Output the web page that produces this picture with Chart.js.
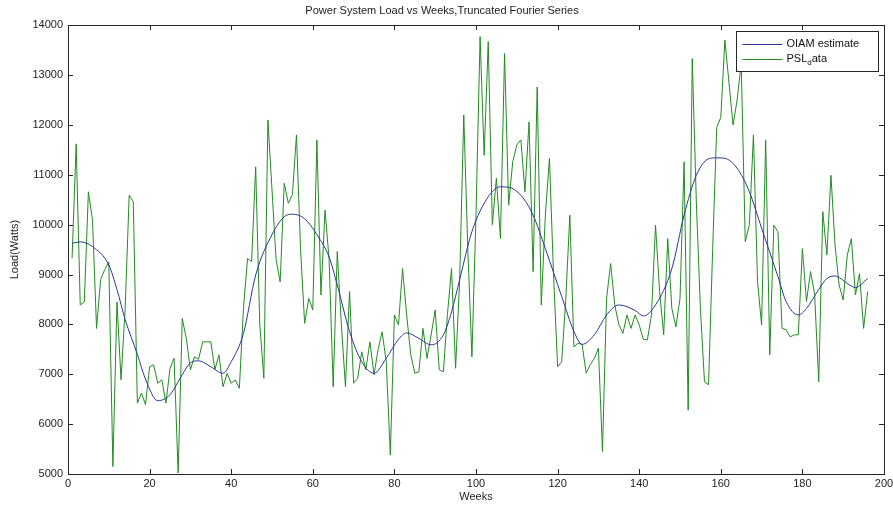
<!DOCTYPE html>
<html>
<head>
<meta charset="utf-8">
<script src="https://cdn.jsdelivr.net/npm/chart.js@4"></script>
<style>
  html, body { margin: 0; padding: 0; background: #fff; }
  #wrap { width: 893px; height: 506px; }
</style>
</head>
<body>
<div id="wrap"><canvas id="loadChart" width="893" height="506"></canvas></div>
<script>
// PSL data, one value per week (weeks 1..196)
const pslLoad = [
  9330, 11620, 8390, 8450, 10660, 10100, 7920, 8900, 9100, 9250,
  5150, 8450, 6890, 8300, 10590, 10460, 6420, 6620, 6390, 7150,
  7190, 6820, 6890, 6420, 7120, 7320, 5020, 8120, 7720, 7090,
  7350, 7300, 7650, 7650, 7650, 7090, 7390, 6750, 7020, 6820,
  6890, 6720, 8320, 9320, 9260, 11160, 8000, 6920, 12100, 10700,
  9300, 8850, 10830, 10430, 10600, 11800, 9500, 8020, 8520, 8290,
  11700, 8590, 10290, 9300, 6750, 9460, 8000, 6750, 8660, 6820,
  6920, 7450, 7090, 7650, 6990, 7500, 7850, 7250, 5380, 8190,
  7990, 9120, 8190, 7400, 7020, 7050, 7920, 7320, 7790, 8290,
  7090, 7050, 8200, 9120, 7120, 8900, 12200, 9500, 7350, 10200,
  13770, 11390, 13670, 10000, 10930, 9720, 13430, 10390, 11260, 11600,
  11700, 10660, 12060, 9060, 12760, 8390, 10190, 11330, 9000, 7150,
  7250, 8500, 10190, 7550, 7620, 7600, 7020, 7190, 7320, 7520,
  5450, 8520, 9220, 8390, 8000, 7820, 8190, 7920, 8190, 7990,
  7700, 7690, 8190, 9990, 8660, 7790, 9720, 8320, 7950, 8520,
  11260, 6280, 13330, 10460, 8320, 6850, 6790, 9500, 11950, 12150,
  13700, 12850, 12000, 12500, 13230, 9660, 10000, 11800, 8860, 7990,
  11700, 7390, 9990, 9860, 7920, 7890, 7750, 7790, 7790, 9520,
  8460, 9060, 8600, 6850, 10260, 9390, 10990, 9590, 8790, 8490,
  9390, 9720, 8590, 9020, 7920, 8660
];
const pslWeeks = pslLoad.map((v, i) => i + 1);

// OIAM estimate
const fitWeeks = [1, 3, 6, 10, 12, 14, 17, 19, 22, 25, 28, 30, 32, 35, 38, 40, 43, 46, 50, 53,
  55, 58, 61, 64, 66, 69, 72, 75, 78, 81, 83, 86, 89, 92, 94, 96, 99, 103, 106, 108,
  111, 114, 117, 121, 124, 126, 129, 132, 135, 139, 141, 144, 148, 151, 154, 157, 159, 161, 164, 167,
  170, 174, 176, 179, 181, 184, 186, 188, 191, 193, 196];
const fitLoad = [9625, 9655, 9560, 9190, 8700, 8100, 7400, 6900, 6470, 6590, 6990, 7230, 7270, 7150, 7020, 7250, 7820, 8990, 9800, 10160,
  10210, 10120, 9800, 9350, 8790, 7860, 7250, 7020, 7320, 7700, 7830, 7720, 7590, 7790, 8250, 8900, 9860, 10560, 10760, 10750,
  10590, 10190, 9520, 8560, 7860, 7600, 7790, 8190, 8390, 8280, 8170, 8390, 9120, 10190, 10990, 11320, 11340, 11330, 11130, 10660,
  9930, 8960, 8460, 8190, 8320, 8700, 8920, 8970, 8820, 8740, 8920];

const xTicks = [0, 20, 40, 60, 80, 100, 120, 140, 160, 180, 200];
const yTicks = [5000, 6000, 7000, 8000, 9000, 10000, 11000, 12000, 13000, 14000];

const blueLine = '#2b3596';
const greenLine = '#248a24';
const axisColor = '#262626';
const fontFamily = "'Liberation Sans', Arial, sans-serif";

// box + inward ticks on all four sides, MATLAB style
const boxPlugin = {
  id: 'matlabBox',
  afterDraw(chart) {
    const { ctx, chartArea: a, scales } = chart;
    ctx.save();
    ctx.strokeStyle = axisColor;
    ctx.lineWidth = 1;
    ctx.strokeRect(Math.round(a.left) + 0.5, Math.round(a.top) + 0.5,
      Math.round(a.right - a.left), Math.round(a.bottom - a.top));
    ctx.beginPath();
    xTicks.forEach(t => {
      const px = Math.round(scales.x.getPixelForValue(t)) + 0.5;
      ctx.moveTo(px, a.bottom); ctx.lineTo(px, a.bottom - 5);
      ctx.moveTo(px, a.top); ctx.lineTo(px, a.top + 5);
    });
    yTicks.forEach(t => {
      const py = Math.round(scales.y.getPixelForValue(t)) + 0.5;
      ctx.moveTo(a.left, py); ctx.lineTo(a.left + 5, py);
      ctx.moveTo(a.right, py); ctx.lineTo(a.right - 5, py);
    });
    ctx.stroke();

    // legend box inside the plot, top right
    const bx = Math.round(a.right - 148) + 0.5;
    const by = Math.round(a.top + 6) + 0.5;
    const bw = 142, bh = 40;
    ctx.fillStyle = '#fff';
    ctx.fillRect(bx, by, bw, bh);
    ctx.strokeRect(bx, by, bw, bh);
    const rows = [
      { color: blueLine, y: by + 12 },
      { color: greenLine, y: by + 27 }
    ];
    rows.forEach(r => {
      ctx.strokeStyle = r.color;
      ctx.beginPath();
      ctx.moveTo(bx + 6, Math.round(r.y) + 0.5);
      ctx.lineTo(bx + 46, Math.round(r.y) + 0.5);
      ctx.stroke();
    });
    ctx.fillStyle = '#111';
    ctx.textBaseline = 'middle';
    ctx.font = '11px ' + fontFamily;
    const tx = bx + 50;
    ctx.fillText('OIAM estimate', tx, rows[0].y);
    ctx.fillText('PSL', tx, rows[1].y);
    const w1 = ctx.measureText('PSL').width;
    ctx.font = '8px ' + fontFamily;
    ctx.fillText('d', tx + w1, rows[1].y + 4);
    const w2 = ctx.measureText('d').width;
    ctx.font = '11px ' + fontFamily;
    ctx.fillText('ata', tx + w1 + w2, rows[1].y);
    ctx.restore();
  }
};

const ctxLoad = document.getElementById('loadChart').getContext('2d');
const loadChart = new Chart(ctxLoad, {
  type: 'line',
  data: {
    datasets: [
      {
        label: 'PSL data',
        data: pslLoad.map((v, i) => ({ x: pslWeeks[i], y: v })),
        borderColor: greenLine,
        borderWidth: 1,
        pointRadius: 0,
        tension: 0,
        fill: false,
        order: 2
      },
      {
        label: 'OIAM estimate',
        data: fitLoad.map((v, i) => ({ x: fitWeeks[i], y: v })),
        borderColor: blueLine,
        borderWidth: 1,
        pointRadius: 0,
        cubicInterpolationMode: 'monotone',
        fill: false,
        order: 1
      }
    ]
  },
  options: {
    responsive: false,
    animation: false,
    layout: { padding: { left: 0, right: 9, top: 0, bottom: 0 } },
    scales: {
      x: {
        type: 'linear',
        min: 0,
        max: 200,
        afterBuildTicks: s => { s.ticks = xTicks.map(v => ({ value: v })); },
        afterFit: s => { s.height = 32; s.paddingRight = 0; s.paddingLeft = 0; },
        grid: { display: false, drawTicks: false },
        border: { display: false },
        ticks: {
          color: '#222',
          padding: 3,
          maxRotation: 0,
          callback: v => String(v),
          font: { size: 11, family: fontFamily }
        },
        title: {
          display: true,
          text: 'Weeks',
          color: '#222',
          padding: { top: 0, bottom: 2 },
          font: { size: 11, family: fontFamily }
        }
      },
      y: {
        min: 5000,
        max: 14000,
        afterBuildTicks: s => { s.ticks = yTicks.map(v => ({ value: v })); },
        afterFit: s => { s.width = 68; },
        grid: { display: false, drawTicks: false },
        border: { display: false },
        ticks: {
          color: '#222',
          padding: 5,
          callback: v => String(v),
          font: { size: 11, family: fontFamily }
        },
        title: {
          display: true,
          text: 'Load(Watts)',
          color: '#222',
          padding: { top: 8, bottom: 0 },
          font: { size: 11, family: fontFamily }
        }
      }
    },
    plugins: {
      title: {
        display: true,
        text: 'Power System Load vs Weeks,Truncated Fourier Series',
        color: '#222',
        font: { size: 11, weight: 'normal', family: fontFamily },
        padding: { top: 4, bottom: 8 }
      },
      legend: { display: false },
      tooltip: { enabled: false }
    }
  },
  plugins: [boxPlugin]
});
</script>
</body>
</html>
